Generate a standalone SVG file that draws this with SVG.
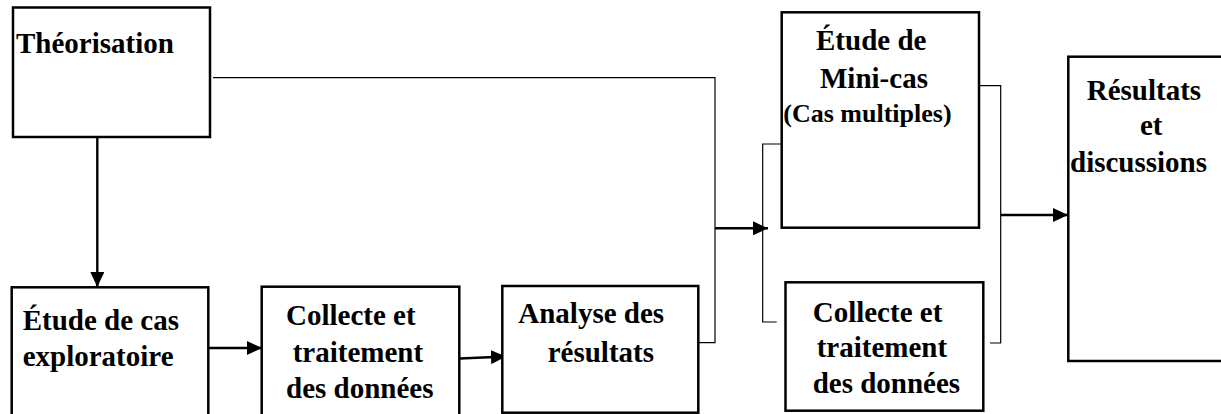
<svg xmlns="http://www.w3.org/2000/svg" width="1221" height="414" viewBox="0 0 1221 414">
  <style>
    .box { fill: #ffffff; stroke: #000000; stroke-width: 2.5; }
    .lbl { font-family: "Liberation Serif", "Times New Roman", serif; font-weight: bold; font-size: 29px; fill: #000000; }
    .small { font-size: 26px; }
    .thin { fill: none; stroke: #000000; stroke-width: 1.2; }
    .arrow { fill: none; stroke: #000000; stroke-width: 2.4; marker-end: url(#head); }
  </style>
  <defs>
    <marker id="head" viewBox="0 0 15 14" refX="15" refY="7" markerWidth="15" markerHeight="14" markerUnits="userSpaceOnUse" orient="auto">
      <path d="M0,0 L15,7 L0,14 z" fill="#000000"/>
    </marker>
  </defs>

  <rect width="1221" height="414" fill="#ffffff"/>

  <g id="connectors">
    <!-- Théorisation to the multiple-case stage, joined by the analysis output -->
    <polyline class="thin" points="213,77.7 715,77.7 715,342.7 698.5,342.7"/>
    <!-- bracket grouping the two multiple-case boxes -->
    <polyline class="thin" points="786,144 762.7,144 762.7,322 776.7,322"/>
    <!-- bracket gathering the multiple-case outputs -->
    <polyline class="thin" points="979,85.7 1000.7,85.7 1000.7,343 990,343"/>
    <line class="arrow" x1="97.3" y1="138" x2="97.3" y2="287"/>
    <line class="arrow" x1="209" y1="348" x2="262" y2="348"/>
    <line class="arrow" x1="460" y1="358.5" x2="506" y2="356.5"/>
    <line class="arrow" x1="715" y1="228.3" x2="768" y2="228.3"/>
    <line class="arrow" x1="1000.7" y1="215" x2="1068" y2="215"/>
  </g>

  <g id="theorisation">
    <rect class="box" x="13" y="7.5" width="197" height="129.5"/>
    <text class="lbl" x="16" y="53">Théorisation</text>
  </g>

  <g id="etude-exploratoire">
    <rect class="box" x="11.7" y="287.3" width="196.6" height="140"/>
    <text class="lbl" x="22.7" y="330">Étude de cas</text>
    <text class="lbl" x="22.7" y="366">exploratoire</text>
  </g>

  <g id="collecte-1">
    <rect class="box" x="261.7" y="286.7" width="197.6" height="140"/>
    <text class="lbl" x="286" y="325">Collecte et</text>
    <text class="lbl" x="292.7" y="361.7">traitement</text>
    <text class="lbl" x="286" y="398.3">des données</text>
  </g>

  <g id="analyse">
    <rect class="box" x="502.3" y="286" width="196" height="126.7"/>
    <text class="lbl" x="518.3" y="323.3">Analyse des</text>
    <text class="lbl" x="547.7" y="361.7">résultats</text>
  </g>

  <g id="mini-cas">
    <rect class="box" x="781.7" y="12.3" width="197.3" height="215.4"/>
    <text class="lbl" x="816" y="50">Étude de</text>
    <text class="lbl" x="820" y="88.3">Mini-cas</text>
    <text class="lbl small" x="783.3" y="121.7">(Cas multiples)</text>
  </g>

  <g id="collecte-2">
    <rect class="box" x="785.5" y="282.3" width="197.8" height="128.4"/>
    <text class="lbl" x="812.7" y="321.7">Collecte et</text>
    <text class="lbl" x="816.7" y="356.7">traitement</text>
    <text class="lbl" x="812.7" y="393.3">des données</text>
  </g>

  <g id="resultats">
    <rect class="box" x="1068.3" y="56.7" width="160" height="304.3"/>
    <text class="lbl" x="1086.7" y="100">Résultats</text>
    <text class="lbl" x="1140" y="135">et</text>
    <text class="lbl" x="1070" y="171.7">discussions</text>
  </g>
</svg>
